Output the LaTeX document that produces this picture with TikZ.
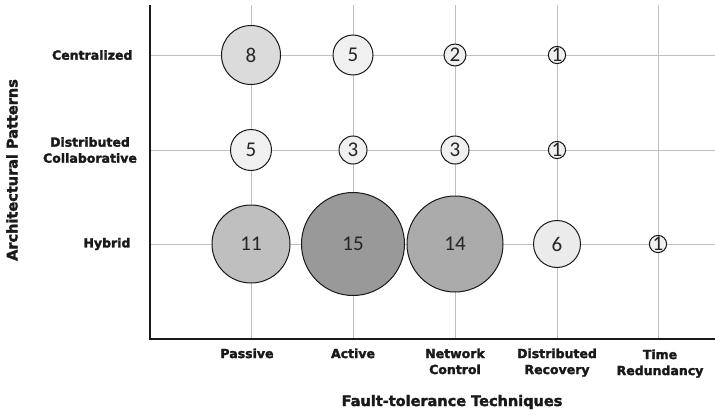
\documentclass[tikz,border=0pt]{standalone}
\usepackage{fontspec}
\setmainfont{DejaVu Sans}
\newfontfamily\numfont{Carlito}
\newfontfamily\heavyfont{DejaVu Sans Bold}[FakeBold=2.2]
\begin{document}
\begin{tikzpicture}[x=1pt,y=-1pt,
  gridline/.style={draw=black!25,line width=0.9pt},
  axisline/.style={draw=black!90,line width=2pt},
  bubble/.style={circle,draw=black!90,line width=1pt,inner sep=0pt,
    minimum size=#1,font=\numfont\fontsize{21}{21}\selectfont,text=black!85},
  rowlabel/.style={font=\heavyfont\fontsize{12.5}{16}\selectfont,align=center,text=black!90},
  collabel/.style={font=\heavyfont\fontsize{12.5}{16}\selectfont,align=center,anchor=north,text=black!90},
  axistitle/.style={font=\heavyfont\fontsize{14.5}{16}\selectfont,text=black!90}]
\useasboundingbox (0,0) rectangle (715,415);

% grid positions
\def\cA{251}\def\cB{353}\def\cC{455}\def\cD{557}\def\cE{658}
\def\rA{55}\def\rB{150}\def\rC{244}

% grid lines
\foreach \x in {\cA,\cB,\cC,\cD,\cE}
  \draw[gridline] (\x,5) -- (\x,339);
\foreach \y in {\rA,\rB,\rC}
  \draw[gridline] (150,\y) -- (715,\y);

% axes
\coordinate (origin) at (150,339);
\coordinate (ytop) at (150,5);
\coordinate (xend) at (715,339);
\draw[axisline] (ytop) -- (origin) -- (xend);

% bubbles: Centralized
\node[bubble=59pt,fill=black!14] (c1) at (\cA,\rA) {8};
\node[bubble=40pt,fill=black!6] (c2) at (\cB,\rA) {5};
\node[bubble=22pt,fill=black!6] (c3) at (\cC,\rA) {2};
\node[bubble=16pt,fill=black!6] (c4) at (\cD,\rA) {1};

% bubbles: Distributed Collaborative
\node[bubble=41pt,fill=black!6] (d1) at (\cA,\rB) {5};
\node[bubble=28pt,fill=black!6] (d2) at (\cB,\rB) {3};
\node[bubble=28pt,fill=black!6] (d3) at (\cC,\rB) {3};
\node[bubble=16pt,fill=black!6] (d4) at (\cD,\rB) {1};

% bubbles: Hybrid
\node[bubble=78pt,fill=black!25] (h1) at (\cA,\rC) {11};
\node[bubble=103pt,fill=black!40] (h2) at (\cB,\rC) {15};
\node[bubble=96pt,fill=black!33] (h3) at (\cC,\rC) {14};
\node[bubble=47pt,fill=black!8] (h4) at (\cD,\rC) {6};
\node[bubble=17pt,fill=black!6] (h5) at (\cE,\rC) {1};

% row labels
\node[rowlabel,anchor=east] (lc) at (136,\rA) {Centralized};
\node[rowlabel] (ld) at (90,\rB) {Distributed\\Collaborative};
\node[rowlabel,anchor=east] (lh) at (134,\rC) {Hybrid};

% column labels
\node[collabel] (tp) at (\cA-4,345) {Passive};
\node[collabel] (ta) at (\cB,345) {Active};
\node[collabel] (tn) at (\cC,345) {Network\\Control};
\node[collabel] (td) at (\cD,345) {Distributed\\Recovery};
\node[collabel] (tt) at (\cE+2,346) {Time\\Redundancy};

% axis titles
\node[axistitle,rotate=90] (ytitle) at (12,170) {Architectural Patterns};
\node[axistitle] (xtitle) at (452,402) {Fault-tolerance Techniques};
\end{tikzpicture}
\end{document}
